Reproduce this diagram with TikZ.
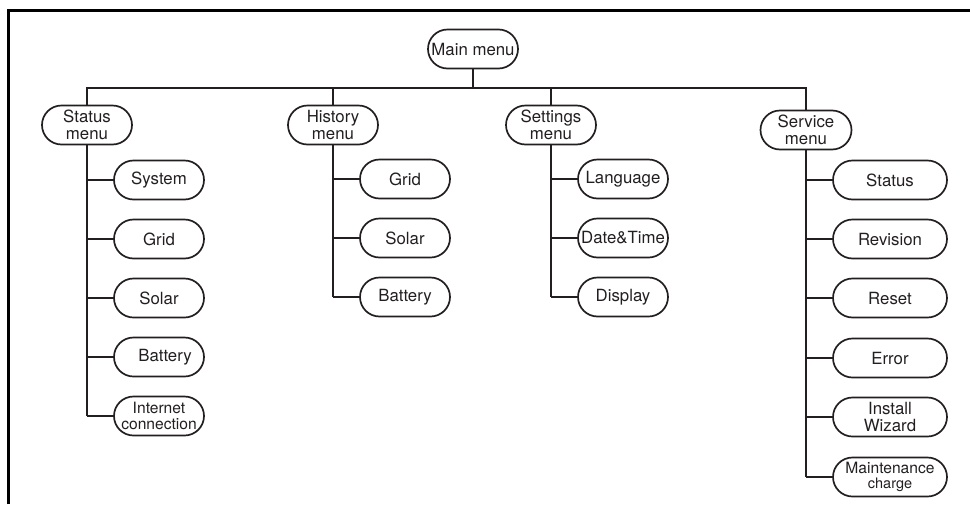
\documentclass[tikz,border=0pt]{standalone}
\usepackage{fontspec}
\setmainfont{TeX Gyre Heros}
\usetikzlibrary{shapes.misc}
\definecolor{ink}{HTML}{231F20}
\tikzset{
  menubox/.style={rounded rectangle, draw=ink, line width=1.7pt, minimum width=92pt,
    minimum height=39pt, inner xsep=1pt, inner ysep=0pt, align=center, text=ink,
    font=\fontsize{16.8}{17}\selectfont},
  widebox/.style={menubox, minimum width=116pt},
  conn/.style={draw=ink, line width=1.7pt},
  frame/.style={draw=black, line width=3pt}
}
\begin{document}
\begin{tikzpicture}[x=1pt,y=-1pt]
\useasboundingbox (0,0) rectangle (970,504);
\draw[frame] (8.5,504) -- (8.5,10.5) -- (970,10.5);
% top level
\node[menubox] (main) at (473,49) {Main menu};
\node[menubox] (smenu) at (87,125) {Status\\menu};
\node[menubox] (hmenu) at (333,125) {History\\menu};
\node[menubox] (tmenu) at (551,125) {Settings\\menu};
\node[menubox, minimum width=93pt] (vmenu) at (806,130) {Service\\menu};
\coordinate (bar) at (473,88);
\draw[conn] (main.south) -- (main.south |- bar);
\draw[conn] (smenu.north) -- (smenu.north |- bar) -- (vmenu.north |- bar) -- (vmenu.north);
\draw[conn] (hmenu.north) -- (hmenu.north |- bar);
\draw[conn] (tmenu.north) -- (tmenu.north |- bar);
% status children
\node[menubox] (s1) at (159,180) {System};
\node[menubox] (s2) at (159,239) {Grid};
\node[menubox] (s3) at (159,298) {Solar};
\node[menubox] (s4) at (159,357) {\hspace*{12pt}Battery};
\node[menubox, font=\fontsize{15.6}{15.5}\selectfont] (s5) at (159,416) {Internet\\connection};
\draw[conn] (smenu.south) -- (smenu.south |- s5.west);
\foreach \c in {s1,s2,s3,s4,s5} \draw[conn] (smenu.south |- \c.west) -- (\c.west);
% history children
\node[menubox] (h1) at (405,179) {Grid};
\node[menubox] (h2) at (405,238) {Solar};
\node[menubox] (h3) at (405,297) {Battery};
\draw[conn] (hmenu.south) -- (hmenu.south |- h3.west);
\foreach \c in {h1,h2,h3} \draw[conn] (hmenu.south |- \c.west) -- (\c.west);
% settings children
\node[menubox] (t1) at (623,179) {Language};
\node[menubox] (t2) at (623,238) {Date\&Time};
\node[menubox] (t3) at (623,297) {Display};
\draw[conn] (tmenu.south) -- (tmenu.south |- t3.west);
\foreach \c in {t1,t2,t3} \draw[conn] (tmenu.south |- \c.west) -- (\c.west);
% service children
\node[widebox] (v1) at (890,180) {Status};
\node[widebox] (v2) at (890,239) {Revision};
\node[widebox] (v3) at (890,298) {Reset};
\node[widebox] (v4) at (890,358) {Error};
\node[widebox] (v5) at (890,417) {Install\\Wizard};
\node[widebox, font=\fontsize{15.6}{15}\selectfont] (v6) at (890,477) {Maintenance\\{\fontsize{14.5}{15}\selectfont charge}};
\draw[conn] (vmenu.south) -- (vmenu.south |- v6.west);
\foreach \c in {v1,v2,v3,v4,v5,v6} \draw[conn] (vmenu.south |- \c.west) -- (\c.west);
\end{tikzpicture}
\end{document}
